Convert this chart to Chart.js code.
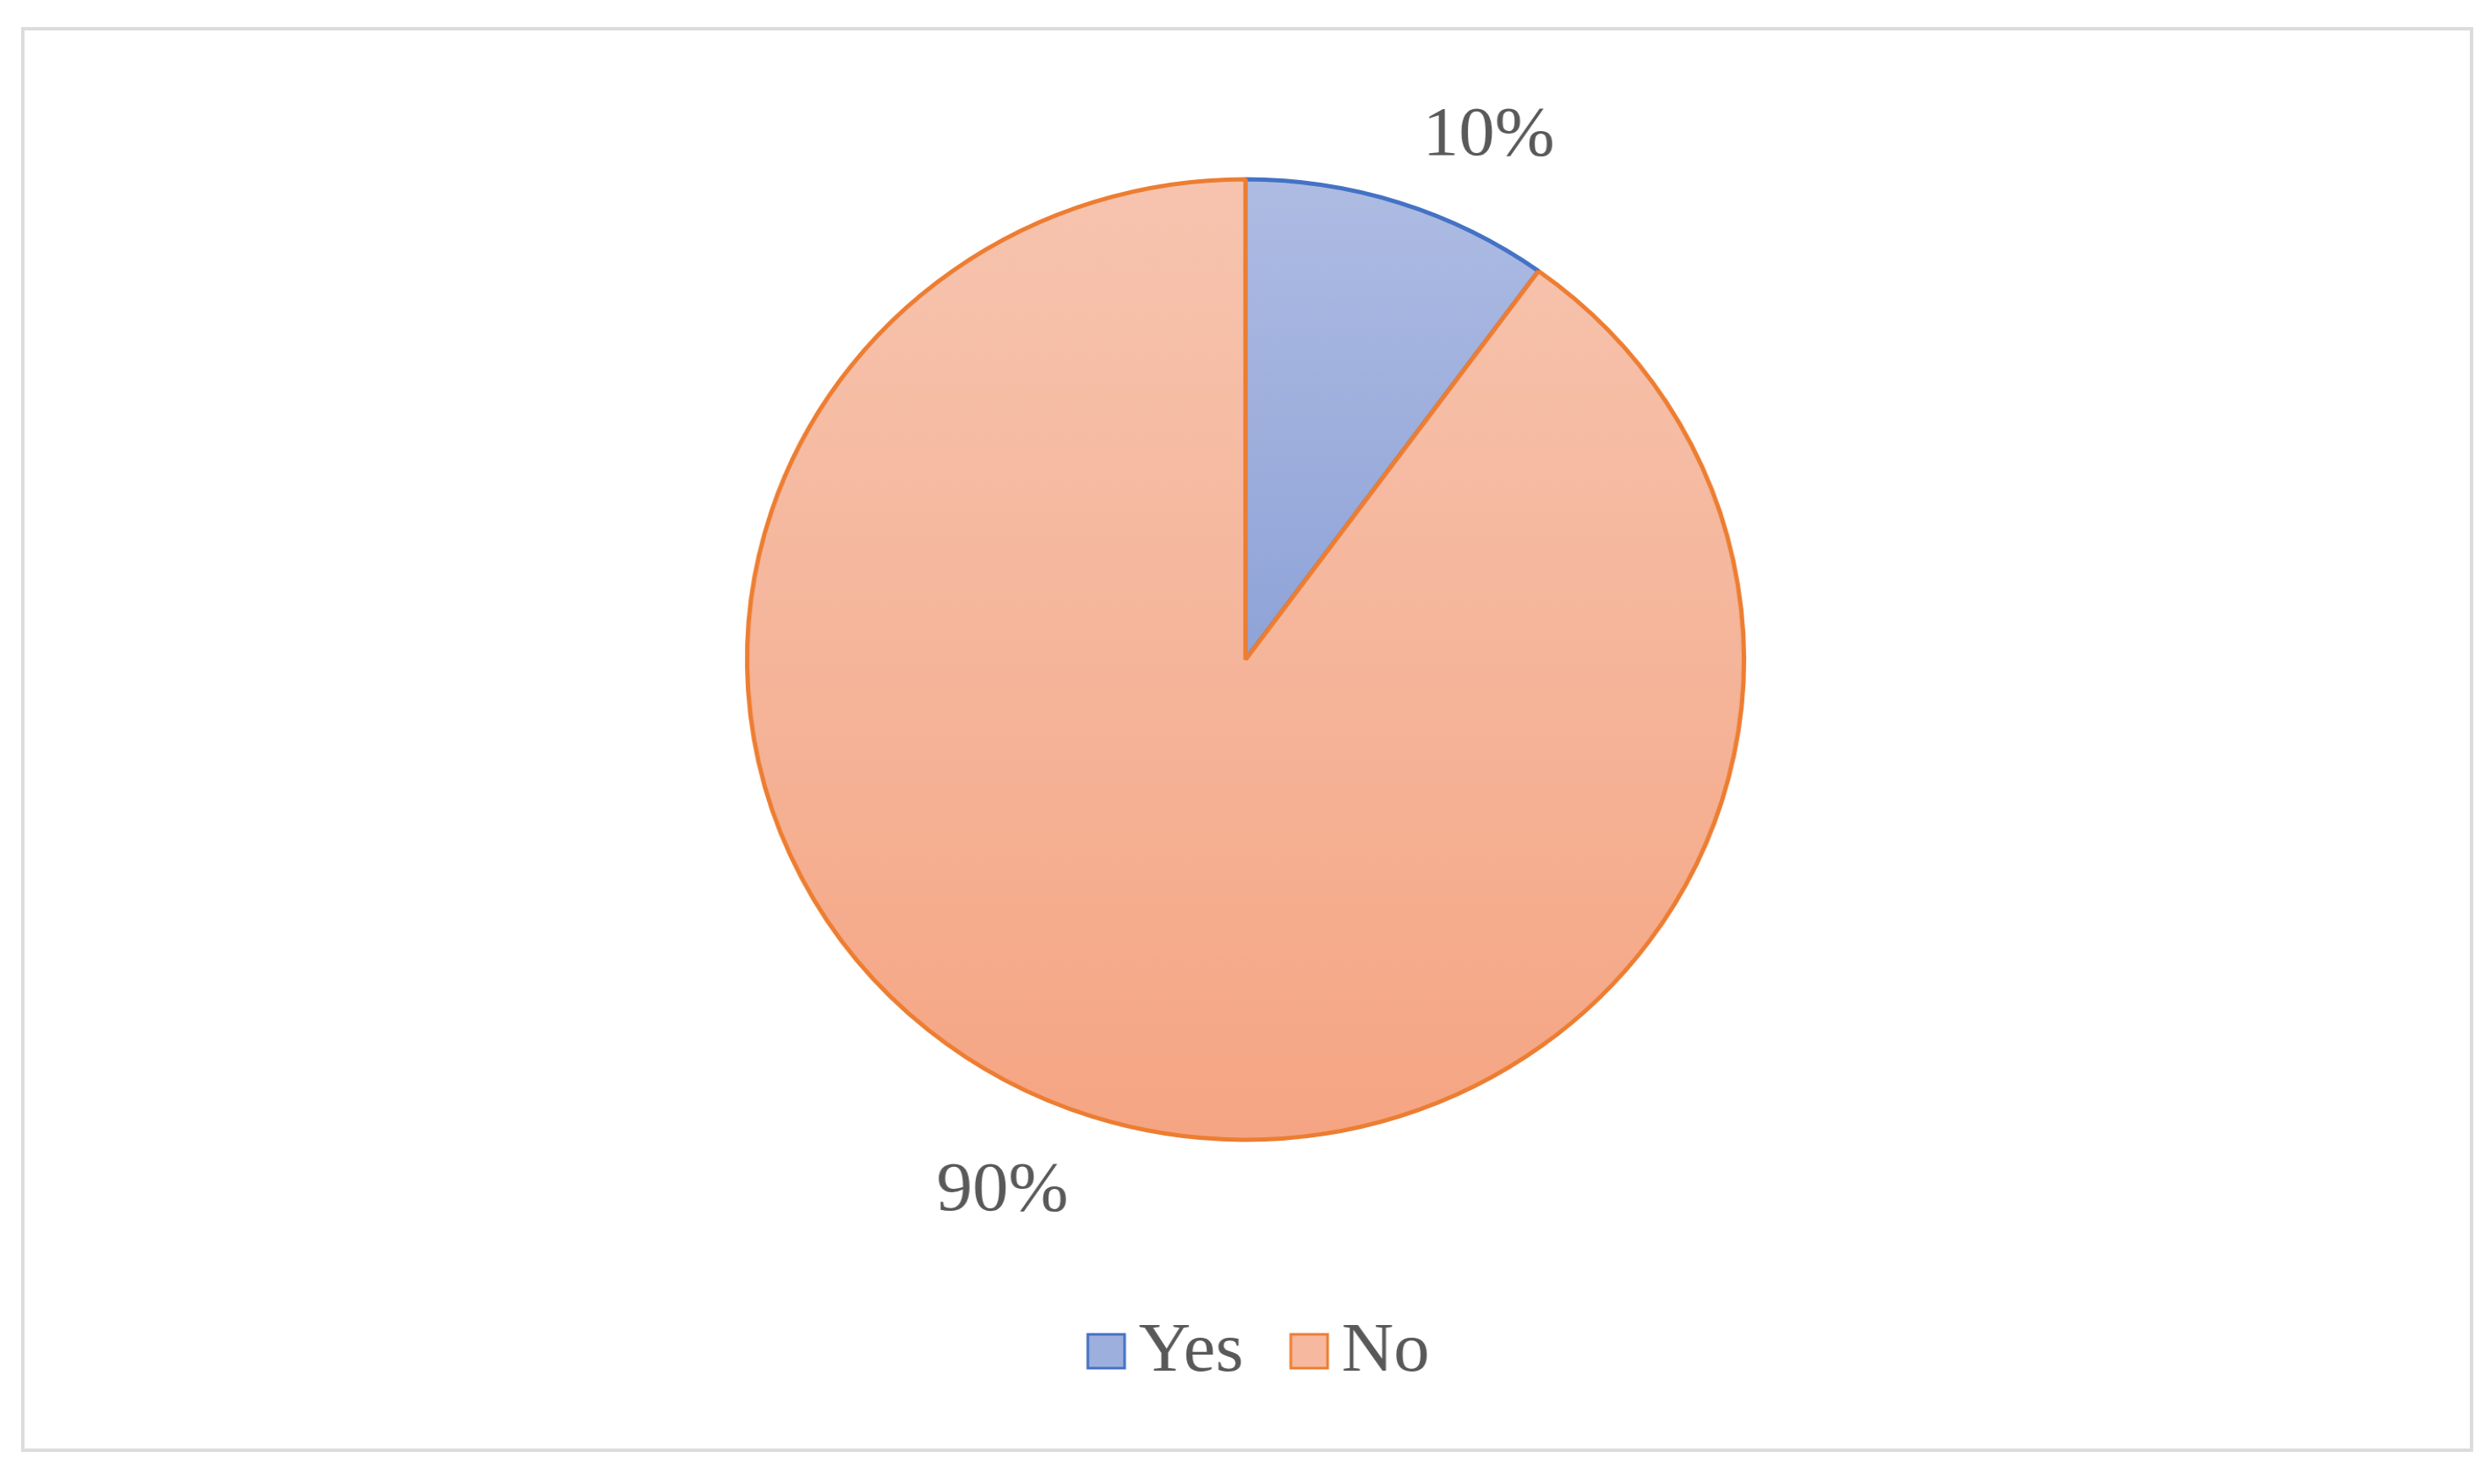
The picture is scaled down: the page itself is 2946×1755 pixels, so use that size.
<!DOCTYPE html>
<html>
<head>
<meta charset="utf-8">
<script src="https://cdn.jsdelivr.net/npm/chart.js@4/dist/chart.umd.min.js"></script>
<style>
  body { margin: 0; background: #fff; overflow: hidden; }
  #frame {
    position: absolute; left: 25px; top: 32px; width: 2900px; height: 1685px;
    border: 4px solid #dcdcdc; box-sizing: border-box;
  }
  /* el original está algo estirado en horizontal */
  #wrap {
    position: absolute; left: 0; top: 0; width: 2839px; height: 1755px;
    transform: scaleX(1.0377); transform-origin: 0 0;
  }
</style>
</head>
<body>
<div id="frame"></div>
<div id="wrap"><canvas id="chart-pie"></canvas></div>
<script>
// Datos
const categorias = ['Yes', 'No'];
const valores = [10, 90];

// Colores (degradado estilo Office)
const bordes = ['#4472C4', '#ED7D31'];
const degradadoArriba = ['#AEBCE3', '#F7C4AF'];
const degradadoMedio = ['#8FA3D8', '#F5B59A'];
const degradadoAbajo = ['#7890D0', '#F5A583'];
const rellenoLeyenda = ['#9DAFDD', '#F6B89E'];

const FUENTE = '"Liberation Serif", "Times New Roman", serif';
const GRIS = '#595959';
const RADIO = 568;
const TAM = 82;

function relleno(ctx) {
    const chart = ctx.chart;
    const area = chart.chartArea;
    const i = ctx.dataIndex;
    if (!area) return degradadoMedio[i];
    const cy = (area.top + area.bottom) / 2;
    const g = chart.ctx.createLinearGradient(0, cy - RADIO, 0, cy + RADIO);
    g.addColorStop(0, degradadoArriba[i]);
    g.addColorStop(0.5, degradadoMedio[i]);
    g.addColorStop(1, degradadoAbajo[i]);
    return g;
}

// Etiquetas de porcentaje fuera del sector
const etiquetasPlugin = {
    id: 'etiquetas',
    afterDatasetsDraw(chart) {
        const ctx = chart.ctx;
        const meta = chart.getDatasetMeta(0);
        const total = valores.reduce((a, b) => a + b, 0);
        const capH = TAM * 0.66;
        ctx.save();
        ctx.font = TAM + 'px ' + FUENTE;
        ctx.fillStyle = GRIS;
        ctx.textAlign = 'center';
        ctx.textBaseline = 'alphabetic';
        meta.data.forEach((arc, i) => {
            const { x, y, startAngle, endAngle, outerRadius } =
                arc.getProps(['x', 'y', 'startAngle', 'endAngle', 'outerRadius'], true);
            const mid = (startAngle + endAngle) / 2;
            const dx = Math.cos(mid), dy = Math.sin(mid);
            const d = outerRadius + 60;
            const ax = x + dx * d, ay = y + dy * d;
            const txt = Math.round(valores[i] / total * 100) + '%';
            const w = ctx.measureText(txt).width;
            const cx = ax + Math.sign(dx) * (w / 2 + 8);
            const cy = ay + Math.sign(dy) * capH / 2;
            ctx.fillText(txt, cx, cy + capH / 2);
        });
        ctx.restore();
    }
};

// Leyenda propia (cuadro + texto, más juntos que la de Chart.js)
const leyendaPlugin = {
    id: 'leyenda',
    afterDraw(chart) {
        const ctx = chart.ctx;
        const caja = 42, gapTexto = 16, gapItem = 54;
        const yc = 1599;
        ctx.save();
        ctx.font = TAM + 'px ' + FUENTE;
        const anchos = categorias.map(c => ctx.measureText(c).width);
        const total = anchos.reduce((a, w) => a + caja + gapTexto + w, 0) + gapItem * (categorias.length - 1);
        const area = chart.chartArea;
        let x = (area.left + area.right) / 2 - total / 2 + 15;
        ctx.textBaseline = 'middle';
        ctx.textAlign = 'left';
        categorias.forEach((c, i) => {
            ctx.fillStyle = rellenoLeyenda[i];
            ctx.strokeStyle = bordes[i];
            ctx.lineWidth = 3;
            ctx.fillRect(x, yc - caja / 2, caja, caja - 2);
            ctx.strokeRect(x, yc - caja / 2, caja, caja - 2);
            x += caja + gapTexto;
            ctx.fillStyle = GRIS;
            ctx.fillText(c, x, yc);
            x += anchos[i] + gapItem;
        });
        ctx.restore();
    }
};

const canvas = document.getElementById('chart-pie');
new Chart(canvas, {
    type: 'pie',
    data: {
        labels: categorias,
        datasets: [{
            data: valores,
            backgroundColor: relleno,
            borderColor: bordes,
            borderWidth: 5,
            radius: RADIO
        }]
    },
    options: {
        responsive: true,
        maintainAspectRatio: false,
        animation: false,
        events: [],
        layout: { padding: { top: 42, bottom: 237, left: 0, right: 0 } },
        plugins: {
            tooltip: { enabled: false },
            legend: { display: false }
        }
    },
    plugins: [etiquetasPlugin, leyendaPlugin]
});
</script>
</body>
</html>
